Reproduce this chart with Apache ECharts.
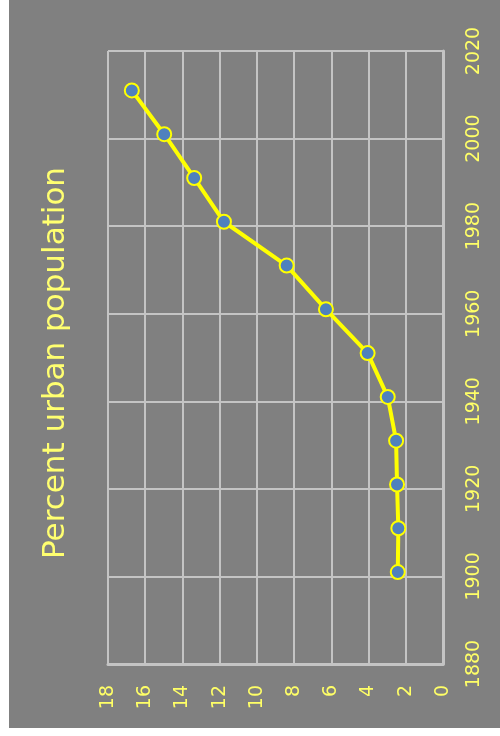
<!DOCTYPE html>
<html lang="en">
<head>
    <meta charset="UTF-8">
    <title>Percent urban population</title>
    <style>
        html, body { margin: 0; padding: 0; background: #ffffff; }
        #main { position: absolute; left: 9px; top: 0; width: 491px; height: 728px; }
    </style>
</head>
<body>
    <div id="main"></div>
    <script src="https://cdn.jsdelivr.net/npm/echarts@6/dist/echarts.min.js"></script>
<script type="text/javascript">
    // census years and percent urban
    var years = [1901, 1911, 1921, 1931, 1941, 1951, 1961, 1971, 1981, 1991, 2001, 2011];
    var urbanPct = [2.43, 2.40, 2.47, 2.52, 2.97, 4.05, 6.29, 8.40, 11.77, 13.37, 14.98, 16.72];
    var titleText = 'Percent urban population';

    var points = [];
    for (var i = 0; i < years.length; i++) {
        points.push([urbanPct[i], years[i]]);
    }

    var labelColor = '#ffff66';
    var gridColor = '#c4c4c4';

    var myChart = echarts.init(document.getElementById('main'));
    myChart.setOption({
        backgroundColor: '#808080',
        animation: false,
        grid: { left: 99, right: 57, top: 51, bottom: 64 },
        // chart is turned on its side: percent runs along the bottom (reversed), years up the right
        xAxis: {
            type: 'value',
            min: 0, max: 18, interval: 2,
            inverse: true,
            position: 'bottom',
            axisLine: { show: true, lineStyle: { color: gridColor, width: 3 } },
            axisTick: { show: false },
            axisLabel: { rotate: 90, margin: 21, color: labelColor, fontSize: 19, fontFamily: 'DejaVu Sans' },
            splitLine: { show: true, lineStyle: { color: gridColor, width: 2 } }
        },
        yAxis: {
            type: 'value',
            min: 1880, max: 2020, interval: 20,
            position: 'right',
            axisLine: { show: true, lineStyle: { color: gridColor, width: 3 } },
            axisTick: { show: false },
            axisLabel: {
                rotate: 90, margin: 22, color: labelColor, fontSize: 19, fontFamily: 'DejaVu Sans',
                formatter: function (v) { return String(v); }
            },
            splitLine: { show: true, lineStyle: { color: gridColor, width: 2 } }
        },
        graphic: [{
            type: 'text',
            x: 47,
            y: 363,
            rotation: Math.PI / 2,
            style: {
                text: titleText,
                fill: '#ffff70',
                font: '31px "DejaVu Sans"',
                textAlign: 'center',
                textVerticalAlign: 'middle'
            }
        }],
        series: [{
            name: 'urban',
            type: 'line',
            data: points,
            symbol: 'circle',
            symbolSize: 14,
            lineStyle: { color: '#ffff00', width: 4 },
            itemStyle: { color: '#4f81bd', borderColor: '#ffff00', borderWidth: 2 }
        }]
    });
</script>
</body>
</html>
